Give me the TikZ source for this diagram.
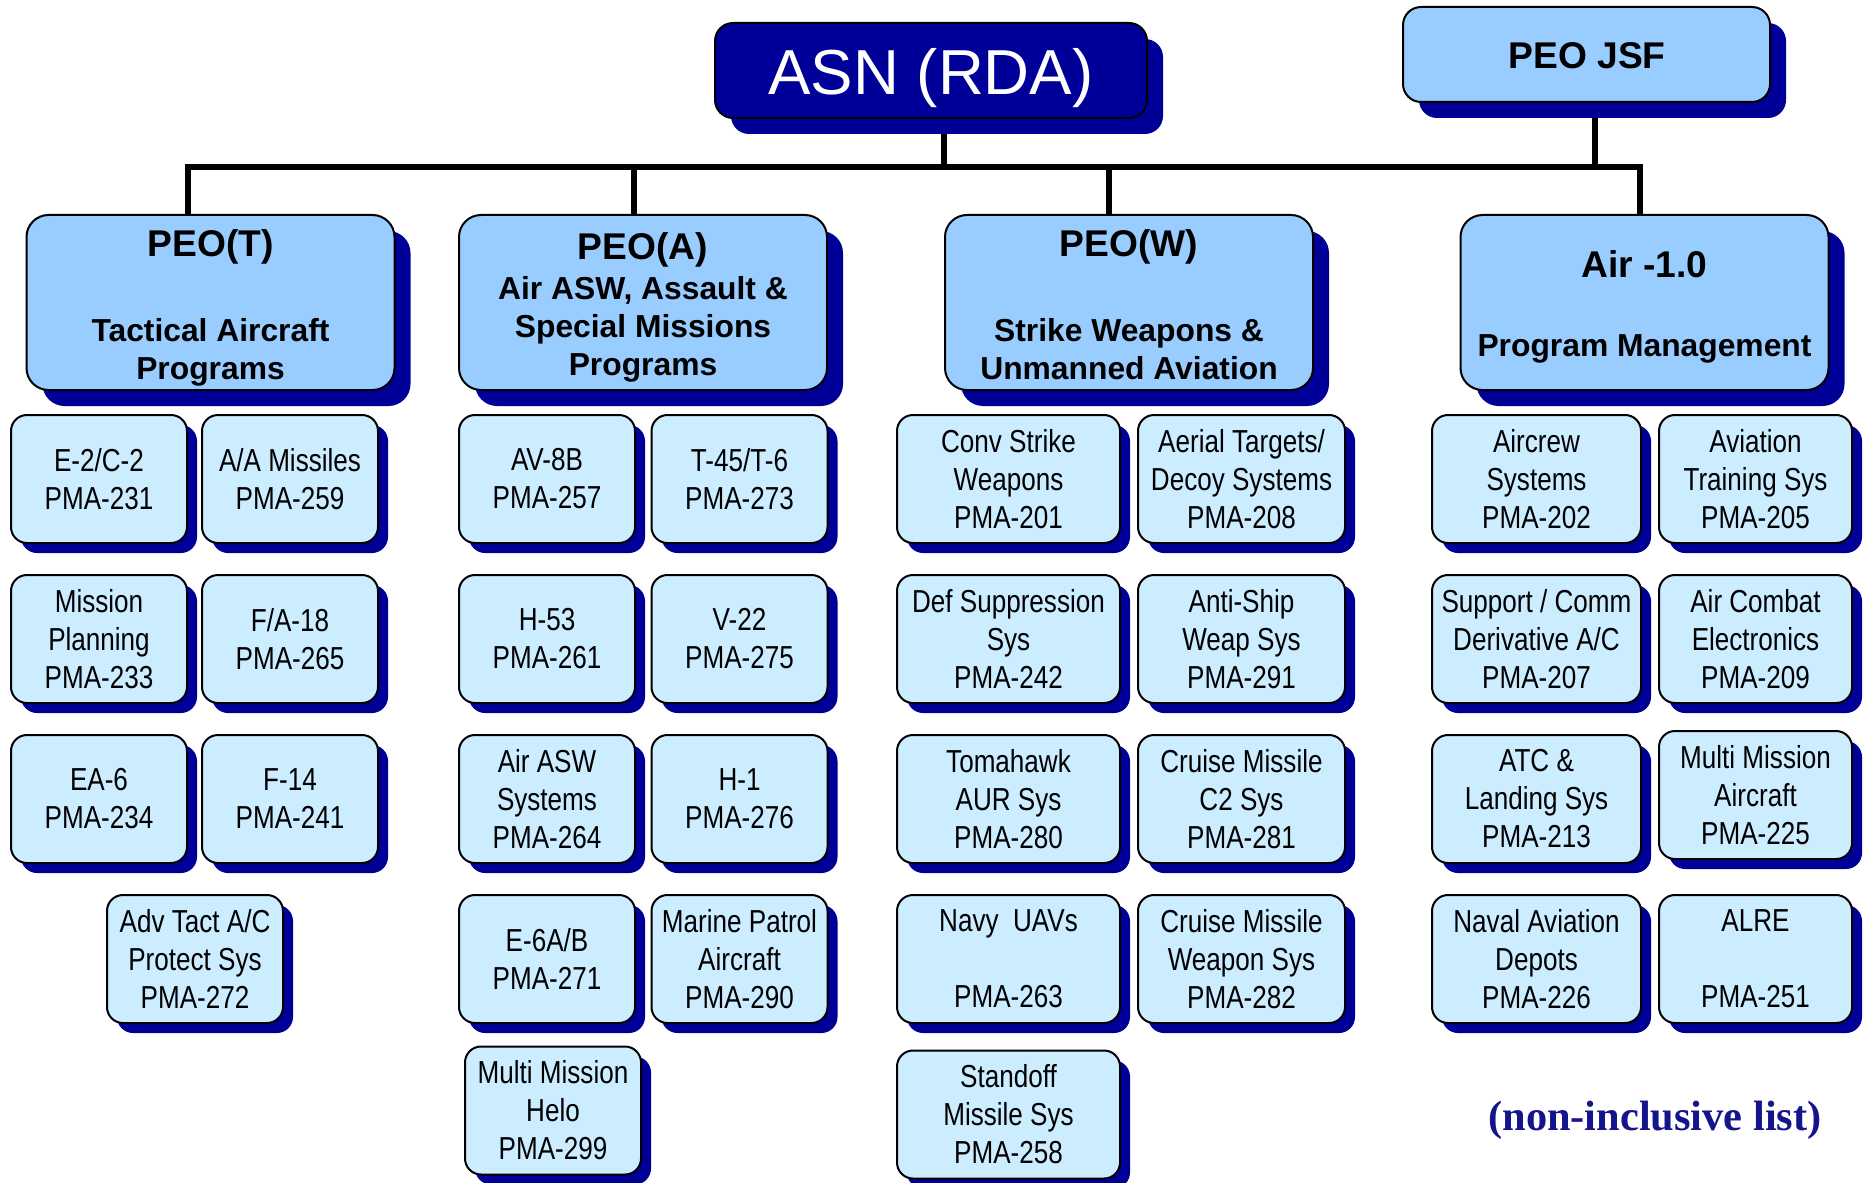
\documentclass[tikz,border=0pt]{standalone}
\usepackage{fontspec}
\setmainfont{Liberation Sans}
\newfontfamily\narrowfont[FakeStretch=0.82]{Liberation Sans}
\newfontfamily\notefont{Liberation Serif}
\usetikzlibrary{shadows,backgrounds}
\definecolor{navyshadow}{RGB}{0,0,153}
\definecolor{hdrblue}{RGB}{153,204,255}
\definecolor{pmablue}{RGB}{204,236,255}
\definecolor{notecol}{RGB}{20,20,140}
\begin{document}
\begin{tikzpicture}[x=0.5pt,y=-0.5pt,
  shadowbig/.style={drop shadow={fill=navyshadow,opacity=1,shadow xshift=8pt,shadow yshift=-8pt}},
  shadowsmall/.style={drop shadow={fill=navyshadow,opacity=1,shadow xshift=5pt,shadow yshift=-5pt}},
  hdrbox/.style={draw=black,line width=1pt,fill=hdrblue,rounded corners=11pt,minimum width=184pt,minimum height=87.5pt,inner sep=0pt,shadowbig},
  topbox/.style={draw=black,line width=1pt,rounded corners=9pt,minimum height=47.5pt,inner sep=0pt,shadowbig},
  pmabox/.style={draw=black,line width=1pt,fill=pmablue,rounded corners=8pt,minimum height=64pt,inner sep=0pt,align=center,font=\narrowfont\fontsize{15.9}{19}\selectfont,shadowsmall},
  wA/.style={minimum width=88pt},
  wWl/.style={minimum width=111.5pt},
  wWr/.style={minimum width=103.5pt},
  wRl/.style={minimum width=104.5pt},
  wRr/.style={minimum width=96.5pt},
  hdrtitle/.style={inner sep=0pt,font=\bfseries\fontsize{18.6}{22}\selectfont},
  hdrsub/.style={inner sep=0pt,align=center,font=\bfseries\fontsize{15.9}{19}\selectfont},
  conn/.style={line width=2.6pt,line join=miter}
]
\useasboundingbox (0,0) rectangle (1866,1182);
\clip (0,0) rectangle (1866,1182);

% top level
\node[topbox,fill=navyshadow,minimum width=216pt] (asn) at (931,70.5) {};
\node[text=white,inner sep=0pt,font=\fontsize{31.8}{38}\selectfont] (asntext) at (931,78) {ASN (RDA)};
\node[topbox,fill=hdrblue,minimum width=183.5pt] (jsf) at (1586.5,54.5) {};
\node[hdrtitle] (jsftext) at (1587,56) {PEO JSF};

% headers
\node[hdrbox] (peoT) at (210.5,302.5) {};
\node[hdrtitle] (peoTt) at (210.5,247) {PEO(T)};
\node[hdrsub] (peoTs) at (210.5,352) {Tactical Aircraft\\Programs};
\node[hdrbox] (peoA) at (643,302.5) {};
\node[hdrtitle] (peoAt) at (643,250) {PEO(A)};
\node[hdrsub] (peoAs) at (643,329) {Air ASW, Assault \&\\Special Missions\\Programs};
\node[hdrbox] (peoW) at (1129,302.5) {};
\node[hdrtitle] (peoWt) at (1129,247) {PEO(W)};
\node[hdrsub] (peoWs) at (1129,349) {Strike Weapons \&\\Unmanned Aviation};
\node[hdrbox] (air) at (1644.5,302.5) {};
\node[hdrtitle] (airt) at (1644.5,264) {Air -1.0};
\node[hdrsub] (airs) at (1644.5,349) {Program Management};

% PEO(T) column
\node[pmabox,wA] (t1) at (99,479) {E-2/C-2\\PMA-231};
\node[pmabox,wA] (t2) at (290,479) {A/A Missiles\\PMA-259};
\node[pmabox,wA] (t3) at (99,639) {Mission\\Planning\\PMA-233};
\node[pmabox,wA] (t4) at (290,639) {F/A-18\\PMA-265};
\node[pmabox,wA] (t5) at (99,799) {EA-6\\PMA-234};
\node[pmabox,wA] (t6) at (290,799) {F-14\\PMA-241};
\node[pmabox,wA] (t7) at (195,959) {Adv Tact A/C\\Protect Sys\\PMA-272};

% PEO(A) column
\node[pmabox,wA] (a1) at (547,479) {AV-8B\\PMA-257};
\node[pmabox,wA] (a2) at (739.5,479) {T-45/T-6\\PMA-273};
\node[pmabox,wA] (a3) at (547,639) {H-53\\PMA-261};
\node[pmabox,wA] (a4) at (739.5,639) {V-22\\PMA-275};
\node[pmabox,wA] (a5) at (547,799) {Air ASW\\Systems\\PMA-264};
\node[pmabox,wA] (a6) at (739.5,799) {H-1\\PMA-276};
\node[pmabox,wA] (a7) at (547,959) {E-6A/B\\PMA-271};
\node[pmabox,wA] (a8) at (739.5,959) {Marine Patrol\\Aircraft\\PMA-290};
\node[pmabox,wA] (a9) at (553,1110.5) {Multi Mission\\Helo\\PMA-299};

% PEO(W) column
\node[pmabox,wWl] (w1) at (1008.5,479) {Conv Strike\\Weapons\\PMA-201};
\node[pmabox,wWr] (w2) at (1241.5,479) {Aerial Targets/\\Decoy Systems\\PMA-208};
\node[pmabox,wWl] (w3) at (1008.5,639) {Def Suppression\\Sys\\PMA-242};
\node[pmabox,wWr] (w4) at (1241.5,639) {Anti-Ship\\Weap Sys\\PMA-291};
\node[pmabox,wWl] (w5) at (1008.5,799) {Tomahawk\\AUR Sys\\PMA-280};
\node[pmabox,wWr] (w6) at (1241.5,799) {Cruise Missile\\C2 Sys\\PMA-281};
\node[pmabox,wWl] (w7) at (1008.5,959) {Navy\ \ UAVs\\[19pt]PMA-263};
\node[pmabox,wWr] (w8) at (1241.5,959) {Cruise Missile\\Weapon Sys\\PMA-282};
\node[pmabox,wWl] (w9) at (1008.5,1114.5) {Standoff\\Missile Sys\\PMA-258};

% Air-1.0 column
\node[pmabox,wRl] (r1) at (1536.5,479) {Aircrew\\Systems\\PMA-202};
\node[pmabox,wRr] (r2) at (1755.5,479) {Aviation\\Training Sys\\PMA-205};
\node[pmabox,wRl] (r3) at (1536.5,639) {Support / Comm\\Derivative A/C\\PMA-207};
\node[pmabox,wRr] (r4) at (1755.5,639) {Air Combat\\Electronics\\PMA-209};
\node[pmabox,wRl] (r5) at (1536.5,799) {ATC \&\\Landing Sys\\PMA-213};
\node[pmabox,wRr] (r6) at (1755.5,795) {Multi Mission\\Aircraft\\PMA-225};
\node[pmabox,wRl] (r7) at (1536.5,959) {Naval Aviation\\Depots\\PMA-226};
\node[pmabox,wRr] (r8) at (1755.5,959) {ALRE\\[19pt]PMA-251};

\node[text=notecol,inner sep=0pt,font=\notefont\bfseries\fontsize{21.2}{25}\selectfont] (note) at (1655,1120) {(non-inclusive list)};

% connectors
\begin{scope}[on background layer]
\coordinate (busL) at (188,167);
\coordinate (busR) at (1640,167);
\coordinate (busA) at (634,167);
\coordinate (busW) at (1109,167);
\coordinate (busAsn) at (944,167);
\coordinate (busJsf) at (1595,167);
\draw[conn] (peoT.north -| busL) -- (busL) -- (busR) -- (air.north -| busR);
\draw[conn] (busA) -- (peoA.north -| busA);
\draw[conn] (busW) -- (peoW.north -| busW);
\draw[conn] (asn.south -| busAsn) -- (busAsn);
\draw[conn] (jsf.south -| busJsf) -- (busJsf);
\end{scope}
\end{tikzpicture}
\end{document}
